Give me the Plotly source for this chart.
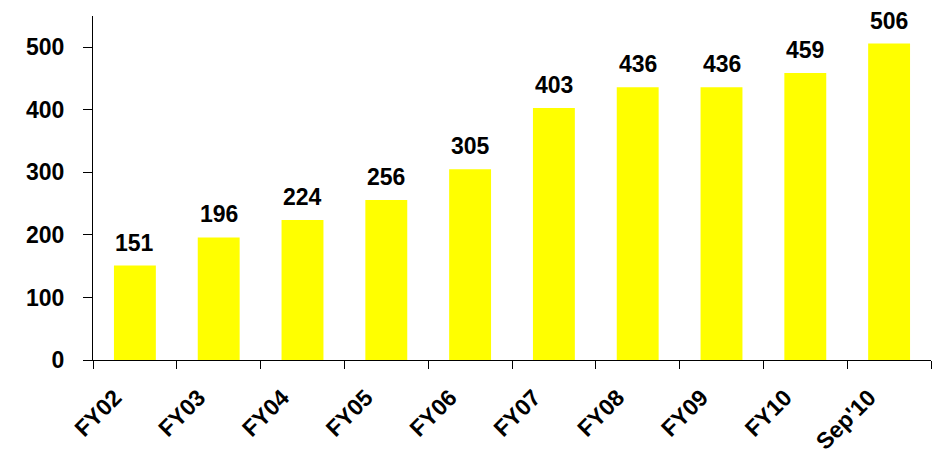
import plotly.graph_objects as go

categories = ["FY02", "FY03", "FY04", "FY05", "FY06", "FY07", "FY08", "FY09", "FY10", "Sep'10"]
values = [151, 196, 224, 256, 305, 403, 436, 436, 459, 506]
y_ticks = [0, 100, 200, 300, 400, 500]

FONT = "Liberation Sans, Arial, sans-serif"

fig = go.Figure()
fig.add_trace(go.Bar(
    x=categories, y=values,
    marker=dict(color="#FFFF00", line=dict(width=0)),
    hoverinfo="x+y",
))

for c, v in zip(categories, values):
    fig.add_annotation(
        x=c, y=v, text=f"<b>{v}</b>", showarrow=False,
        yanchor="bottom", yshift=8,
        font=dict(family=FONT, size=23, color="black"),
    )

fig.update_layout(
    width=937, height=454,
    margin=dict(l=93, r=6, t=16, b=94),
    paper_bgcolor="white", plot_bgcolor="white",
    bargap=0.5, showlegend=False,
    font=dict(family=FONT, size=23, color="black"),
)
fig.update_xaxes(
    type="category", showgrid=False, zeroline=False,
    showline=True, linecolor="black", linewidth=1,
    ticks="outside", tickson="boundaries", ticklen=8, tickcolor="black",
    tickangle=-45, automargin=False,
    ticklabelshift=-20, ticklabelstandoff=14,
    tickfont=dict(family=FONT, size=23, color="black", weight="bold"),
)
fig.update_yaxes(
    range=[0, 550], showgrid=False, zeroline=False,
    showline=True, linecolor="black", linewidth=1,
    tickvals=y_ticks, ticktext=[f"<b>{t}</b>" for t in y_ticks],
    ticks="outside", ticklen=9, tickcolor="black",
    ticklabelstandoff=14, automargin=False,
    tickfont=dict(family=FONT, size=23, color="black"),
)

fig.write_html("out.html")
